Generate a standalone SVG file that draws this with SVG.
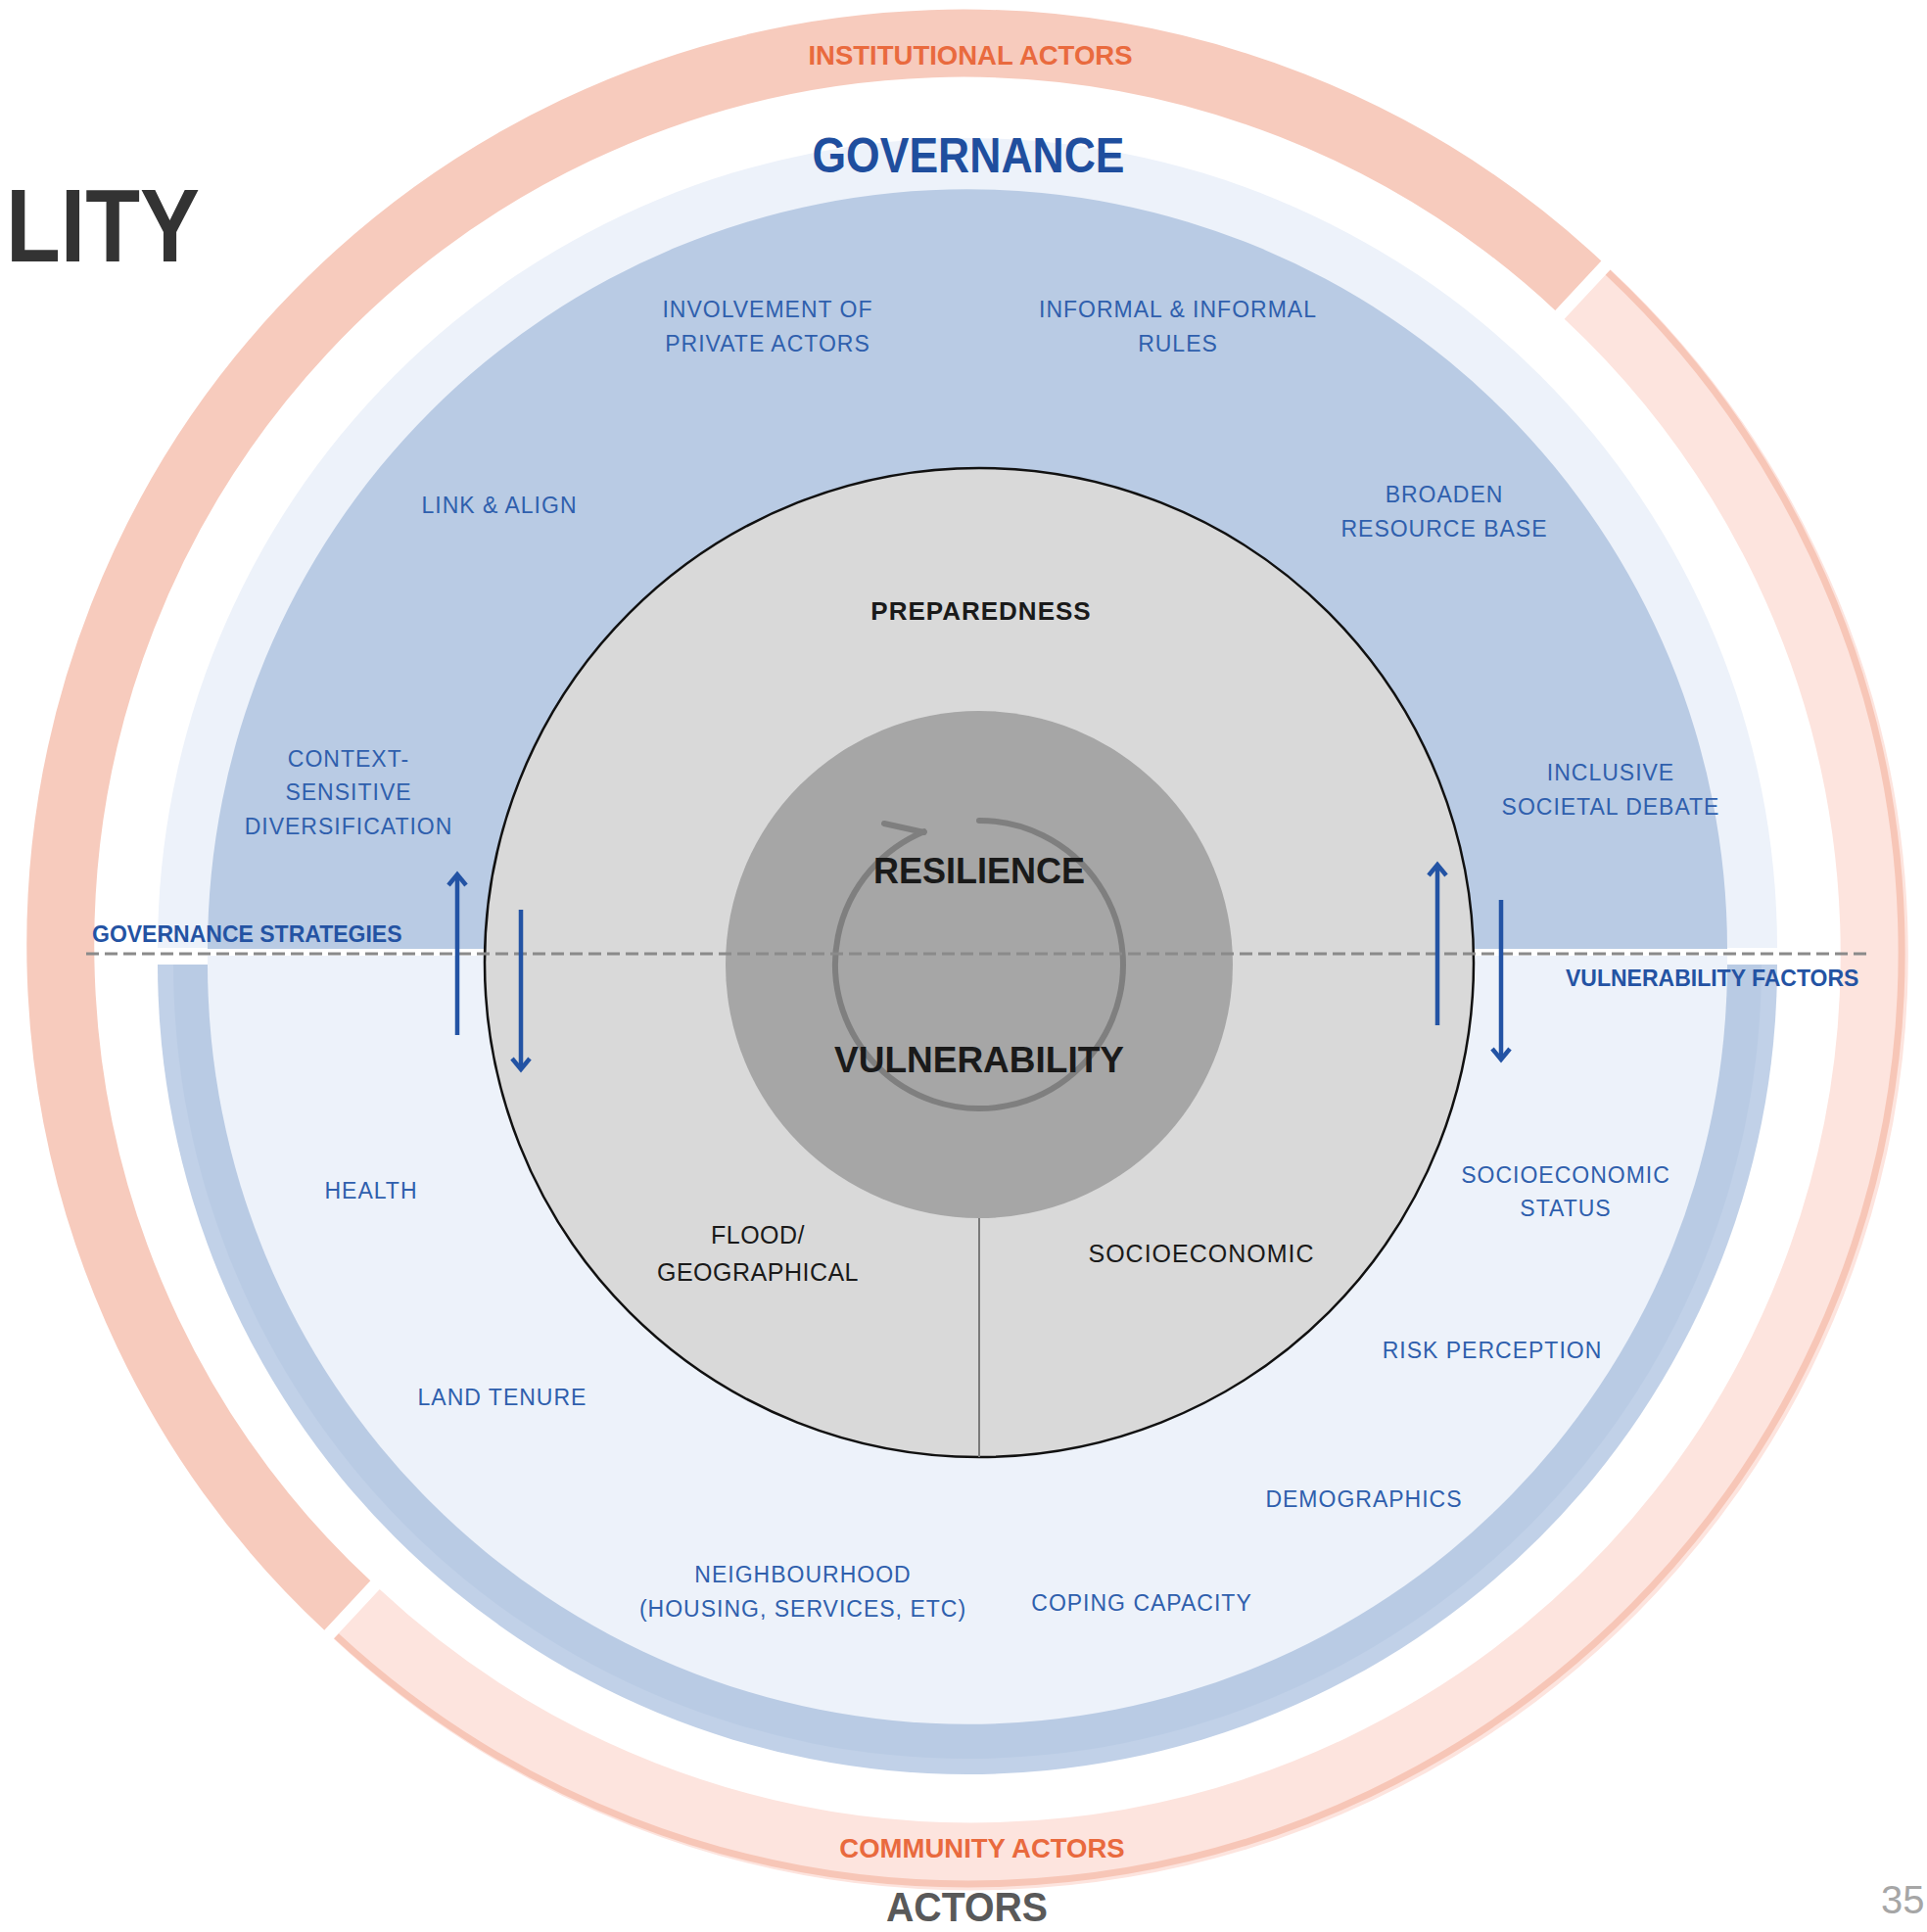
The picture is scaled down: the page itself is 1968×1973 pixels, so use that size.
<svg xmlns="http://www.w3.org/2000/svg" width="1968" height="1973" viewBox="0 0 1968 1973">
<defs>
<style>
.lbl{font-family:"Liberation Sans",Arial,sans-serif;font-size:23px;fill:#2f5fad;letter-spacing:1px;text-anchor:middle}
.blk{font-family:"Liberation Sans",Arial,sans-serif;fill:#1a1a1a;text-anchor:middle}
.bold{font-weight:bold}
.act{font-family:"Liberation Sans",Arial,sans-serif;font-size:27.5px;font-weight:bold;fill:#e96a3e;text-anchor:middle}
.axis{font-family:"Liberation Sans",Arial,sans-serif;font-size:23px;font-weight:bold;fill:#2453a3}
.barrow{stroke:#2353a4;stroke-width:4.5;fill:none}
</style>
<marker id="head" markerUnits="userSpaceOnUse" markerWidth="24" markerHeight="24" viewBox="0 0 24 24" refX="20" refY="12" orient="auto">
<path d="M9,3 L20,12 L9,21" fill="none" stroke="#2353a4" stroke-width="4.5"/>
</marker>
</defs>
<rect width="1968" height="1973" fill="#ffffff"/>

<g id="actors-ring">
<path d="M354.8,1639.6 A921.5,921.5 0 0 1 1611.8,291.7" fill="none" stroke="#f7cbbd" stroke-width="69"/>
<path d="M1621.2,300.4 A921.5,921.5 0 0 1 364.2,1648.3" fill="none" stroke="#fde4de" stroke-width="69"/>
<path d="M1642.1,278.3 A952,952 0 0 1 343.6,1670.8" fill="none" stroke="#f7c6b7" stroke-width="7"/>
</g>

<g id="governance-area">
<path d="M161,968 A827,827 0 0 1 1815,968 Z" fill="#edf2fa"/>
<path d="M212,969 A776,776 0 0 1 1764,969 Z" fill="#b9cbe4"/>
</g>
<g id="vulnerability-area">
<path d="M161,985 A827,827 0 0 0 1815,985 Z" fill="#c1d1e8"/>
<path d="M177,985 A811,811 0 0 0 1799,985 Z" fill="#b9cbe4"/>
<path d="M212,976 L212,985 A776,776 0 0 0 1764,985 L1764,976 Z" fill="#edf2fa"/>
</g>

<g id="preparedness-circle">
<circle cx="1000" cy="983" r="505" fill="#d9d9d9" stroke="#111111" stroke-width="2.5"/>
<line x1="1000" y1="1244" x2="1000" y2="1488" stroke="#7a7a7a" stroke-width="2"/>
</g>
<g id="core-circle">
<circle cx="1000" cy="985" r="259" fill="#a6a6a6"/>
</g>

<g id="connectors">
<path d="M1000,838 A147,147 0 1 1 943.7,849.2" fill="none" stroke="#7f7f7f" stroke-width="6" stroke-linecap="round"/>
<path d="M903,841 L943.7,850" fill="none" stroke="#7f7f7f" stroke-width="6" stroke-linecap="round"/>
<line x1="88" y1="974" x2="1907" y2="974" stroke="#8a8a8a" stroke-width="3" stroke-dasharray="13 6"/>
<line class="barrow" x1="467" y1="1057" x2="467" y2="893" marker-end="url(#head)"/>
<line class="barrow" x1="532" y1="929" x2="532" y2="1092" marker-end="url(#head)"/>
<line class="barrow" x1="1468" y1="1047" x2="1468" y2="883" marker-end="url(#head)"/>
<line class="barrow" x1="1533" y1="919" x2="1533" y2="1082" marker-end="url(#head)"/>
</g>

<g id="title-fragments">
<text x="6" y="267" font-family="Liberation Sans,Arial,sans-serif" font-size="106" font-weight="bold" fill="#333333" textLength="198" lengthAdjust="spacingAndGlyphs">LITY</text>
<text x="905" y="1962" font-family="Liberation Sans,Arial,sans-serif" font-size="42" font-weight="bold" fill="#595959" textLength="165" lengthAdjust="spacingAndGlyphs">ACTORS</text>
<text x="1921" y="1954" font-family="Liberation Sans,Arial,sans-serif" font-size="40" fill="#a6a6a6">35</text>
</g>

<g id="institutional-actors"><text class="act" x="991" y="66">INSTITUTIONAL ACTORS</text></g>
<g id="community-actors"><text class="act" x="1003" y="1897">COMMUNITY ACTORS</text></g>
<g id="governance"><text x="989" y="176" font-family="Liberation Sans,Arial,sans-serif" font-size="50" font-weight="bold" fill="#1f4e9e" text-anchor="middle" textLength="319" lengthAdjust="spacingAndGlyphs">GOVERNANCE</text></g>
<g id="governance-strategies"><text class="axis" x="94" y="962">GOVERNANCE STRATEGIES</text></g>
<g id="vulnerability-factors"><text class="axis" x="1599" y="1007">VULNERABILITY FACTORS</text></g>

<g id="preparedness"><text class="blk bold" x="1002" y="633" font-size="26" letter-spacing="1">PREPAREDNESS</text></g>
<g id="resilience"><text class="blk bold" x="1000" y="902" font-size="36">RESILIENCE</text></g>
<g id="vulnerability"><text class="blk bold" x="1000" y="1095" font-size="37">VULNERABILITY</text></g>
<g id="flood-geographical"><text class="blk" x="774" y="1270" font-size="25" letter-spacing="0.5">FLOOD/</text><text class="blk" x="774" y="1308" font-size="25" letter-spacing="0.5">GEOGRAPHICAL</text></g>
<g id="socioeconomic"><text class="blk" x="1227" y="1289" font-size="25" letter-spacing="1">SOCIOECONOMIC</text></g>

<g id="involvement-private-actors"><text class="lbl" x="784" y="324">INVOLVEMENT OF</text><text class="lbl" x="784" y="359">PRIVATE ACTORS</text></g>
<g id="informal-rules"><text class="lbl" x="1203" y="324">INFORMAL &amp; INFORMAL</text><text class="lbl" x="1203" y="359">RULES</text></g>
<g id="link-align"><text class="lbl" x="510" y="524">LINK &amp; ALIGN</text></g>
<g id="broaden-resource-base"><text class="lbl" x="1475" y="513">BROADEN</text><text class="lbl" x="1475" y="548">RESOURCE BASE</text></g>
<g id="context-sensitive-diversification"><text class="lbl" x="356" y="783">CONTEXT-</text><text class="lbl" x="356" y="817">SENSITIVE</text><text class="lbl" x="356" y="852">DIVERSIFICATION</text></g>
<g id="inclusive-societal-debate"><text class="lbl" x="1645" y="797">INCLUSIVE</text><text class="lbl" x="1645" y="832">SOCIETAL DEBATE</text></g>
<g id="health"><text class="lbl" x="379" y="1224">HEALTH</text></g>
<g id="land-tenure"><text class="lbl" x="513" y="1435">LAND TENURE</text></g>
<g id="neighbourhood"><text class="lbl" x="820" y="1616">NEIGHBOURHOOD</text><text class="lbl" x="820" y="1651">(HOUSING, SERVICES, ETC)</text></g>
<g id="coping-capacity"><text class="lbl" x="1166" y="1645">COPING CAPACITY</text></g>
<g id="demographics"><text class="lbl" x="1393" y="1539">DEMOGRAPHICS</text></g>
<g id="risk-perception"><text class="lbl" x="1524" y="1387">RISK PERCEPTION</text></g>
<g id="socioeconomic-status"><text class="lbl" x="1599" y="1208">SOCIOECONOMIC</text><text class="lbl" x="1599" y="1242">STATUS</text></g>
</svg>
